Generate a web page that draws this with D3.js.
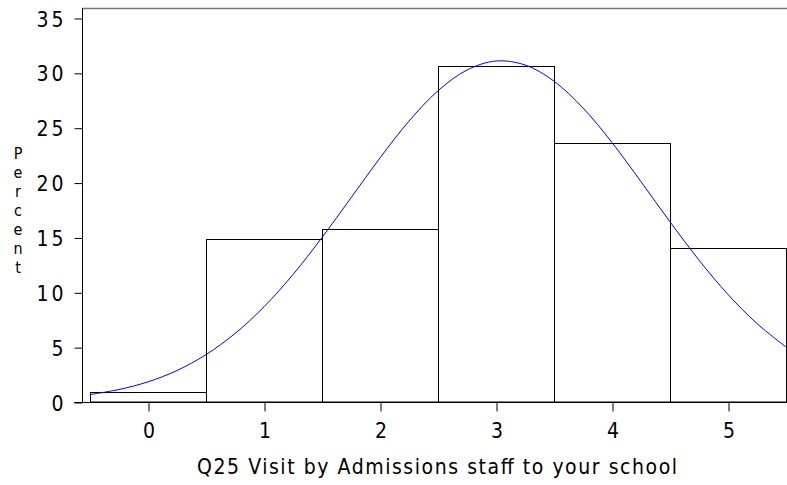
<!DOCTYPE html>
<html>
<head>
<meta charset="utf-8">
<script src="https://cdn.jsdelivr.net/npm/d3@7"></script>
<style>
  body { margin: 0; background: #fff; }
  svg text { font-family: "Liberation Sans Narrow", "DejaVu Sans Condensed", sans-serif; fill: #000; }
</style>
</head>
<body>
<svg id="chart" width="787" height="485"></svg>
<script>
// histogram of Q25 responses (percent per category)
var categories = [0, 1, 2, 3, 4, 5];
var percents = [0.9, 14.9, 15.8, 30.6, 23.6, 14.0];
// fitted normal curve, every 0.25
var curveX = [-0.5, -0.25, 0, 0.25, 0.5, 0.75, 1, 1.25, 1.5, 1.75, 2, 2.25, 2.5, 2.75, 3, 3.25, 3.5, 3.75, 4, 4.25, 4.5, 4.75, 5, 5.25, 5.5];
var curveY = [0.68, 1.14, 1.84, 2.87, 4.32, 6.24, 8.68, 11.62, 14.99, 18.61, 22.25, 25.6, 28.37, 30.26, 31.08, 30.72, 29.24, 26.8, 23.65, 20.08, 16.42, 12.93, 9.8, 7.15, 5.02];
var yTicks = [0, 5, 10, 15, 20, 25, 30, 35];
var xLabel = "Q25 Visit by Admissions staff to your school";
var yLabel = "Percent";

var svg = d3.select("#chart");
var x = d3.scaleLinear().domain([-0.5, 5.5]).range([90, 786]);
var y = d3.scaleLinear().domain([0, 35]).range([402, 18]);
var axisX = 82, plotTop = 8, plotRight = 787;

svg.append("clipPath").attr("id", "plot")
  .append("rect").attr("x", axisX).attr("y", plotTop).attr("width", plotRight - axisX).attr("height", y(0) - plotTop);

// bars
svg.append("g").selectAll("rect")
  .data(categories)
  .enter().append("rect")
  .attr("x", function (d) { return x(d - 0.5); })
  .attr("y", function (d, i) { return Math.round(y(percents[i])) + 0.5; })
  .attr("width", function (d) { return x(d + 0.5) - x(d - 0.5); })
  .attr("height", function (d, i) { return y(0) - Math.round(y(percents[i])) - 0.5; })
  .style("fill", "#fff")
  .style("stroke", "#000")
  .style("stroke-width", 1)
  .attr("transform", "translate(0.5,0)");

// normal curve
var line = d3.line()
  .x(function (d, i) { return x(curveX[i]); })
  .y(function (d) { return y(d); })
  .curve(d3.curveCatmullRom);
svg.append("path")
  .datum(curveY)
  .attr("d", line)
  .attr("clip-path", "url(#plot)")
  .style("fill", "none")
  .style("stroke", "#0000ff")
  .style("stroke-width", 1);

// frame
svg.append("line").attr("x1", axisX).attr("x2", plotRight).attr("y1", plotTop + 0.5).attr("y2", plotTop + 0.5)
  .style("stroke", "#777").style("stroke-width", 1.5);
svg.append("line").attr("x1", axisX + 0.5).attr("x2", axisX + 0.5).attr("y1", plotTop).attr("y2", y(0))
  .style("stroke", "#000");
svg.append("line").attr("x1", 74).attr("x2", plotRight).attr("y1", y(0) + 0.5).attr("y2", y(0) + 0.5)
  .style("stroke", "#000");

// y axis
var gy = svg.append("g").attr("transform", "translate(" + (axisX + 0.5) + ",0.5)")
  .call(d3.axisLeft(y).tickValues(yTicks).tickSize(8).tickPadding(8));
gy.select(".domain").remove();
gy.selectAll("text").style("font-size", "21px").attr("dy", "0.36em").attr("letter-spacing", "3px");

// x axis
var gx = svg.append("g").attr("transform", "translate(0.5," + (y(0) + 0.5) + ")")
  .call(d3.axisBottom(x).tickValues(categories).tickFormat(d3.format("d")).tickSize(9).tickPadding(12));
gx.select(".domain").remove();
gx.selectAll("text").style("font-size", "21px");

// axis titles
svg.append("text")
  .attr("x", 437).attr("y", 474)
  .attr("text-anchor", "middle")
  .style("font-size", "21px")
  .attr("textLength", 480)
  .text(xLabel);

svg.append("text")
  .attr("text-anchor", "middle")
  .style("font-size", "16px")
  .selectAll("tspan")
  .data(yLabel.split(""))
  .enter().append("tspan")
  .attr("x", 18)
  .attr("y", function (d, i) { return 159 + i * 19; })
  .text(function (d) { return d; });
</script>
</body>
</html>
